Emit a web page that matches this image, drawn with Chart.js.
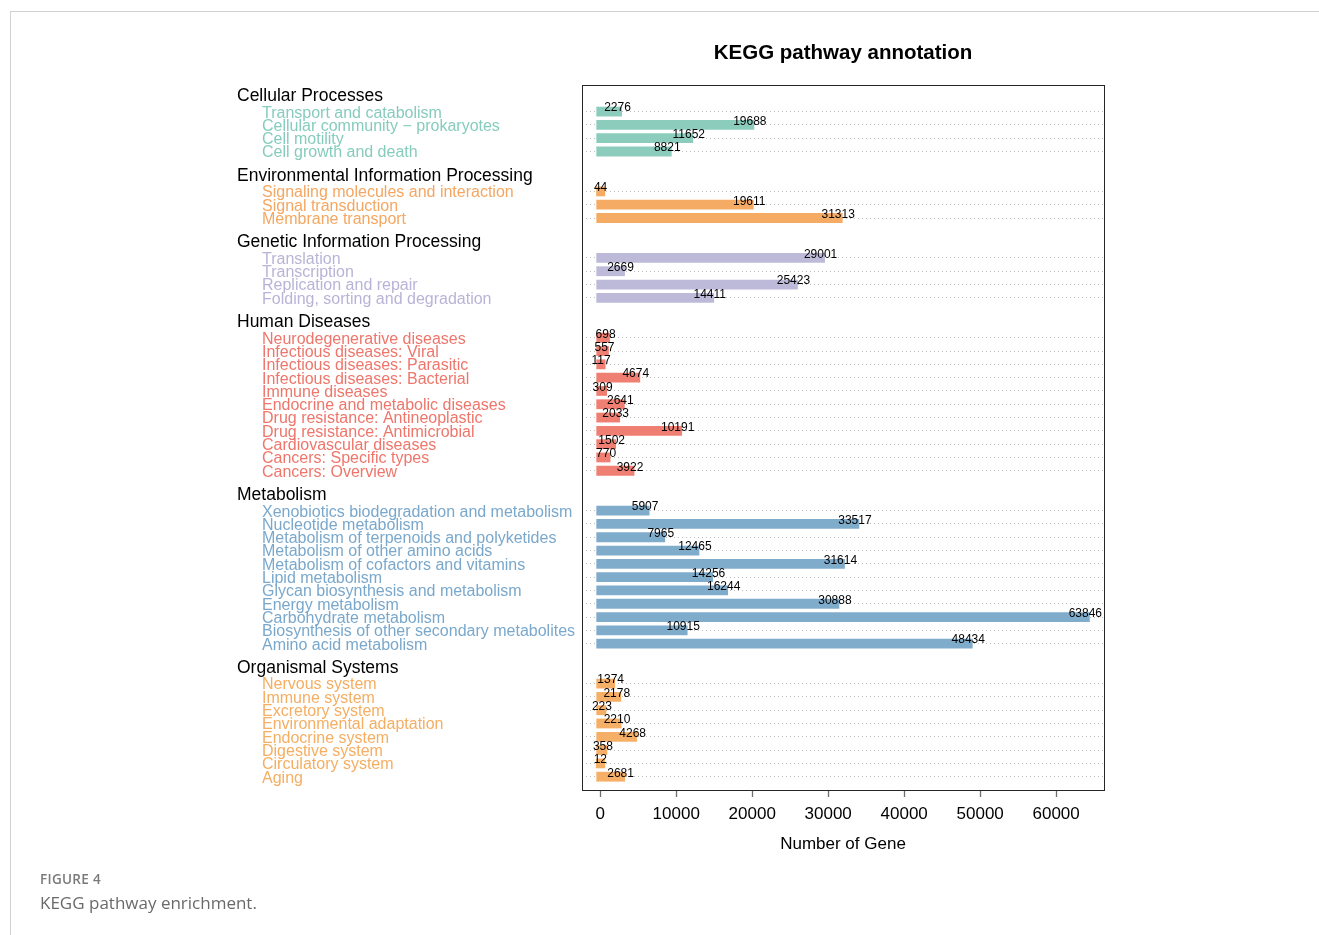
<!DOCTYPE html>
<html>
<head>
<meta charset="utf-8">
<title>KEGG pathway annotation</title>
<script src="https://cdn.jsdelivr.net/npm/chart.js@4.4.1/dist/chart.umd.min.js"></script>
<style>
  html, body { margin: 0; padding: 0; background: #fff; }
  body { width: 1319px; height: 935px; position: relative; overflow: hidden; }
  #chart { position: absolute; left: 0; top: 0; }
  .frame-top { position: absolute; left: 10px; top: 11px; width: 1309px; height: 1px; background: #d2d2d2; }
  .frame-left { position: absolute; left: 10px; top: 11px; width: 1px; height: 924px; background: #d2d2d2; }
  .fig-no { position: absolute; left: 40px; top: 870px; font: 600 13.5px "Open Sans", sans-serif; color: #7a7a7a; letter-spacing: 0.3px; }
  .fig-cap { position: absolute; left: 40px; top: 891px; font: 400 17px "Open Sans", sans-serif; color: #6a6a6a; }
</style>
</head>
<body>
<div class="frame-top"></div>
<div class="frame-left"></div>
<canvas id="chart" width="1319" height="935"></canvas>
<div class="fig-no">FIGURE 4</div>
<div class="fig-cap">KEGG pathway enrichment.</div>
<script>
// KEGG level-1 groups and their level-2 pathways with gene counts
const groupNames = [
  'Cellular Processes',
  'Environmental Information Processing',
  'Genetic Information Processing',
  'Human Diseases',
  'Metabolism',
  'Organismal Systems'
];

const cellularPathways = ['Transport and catabolism', 'Cellular community \u2212 prokaryotes', 'Cell motility', 'Cell growth and death'];
const cellularGenes = [2276, 19688, 11652, 8821];

const environmentalPathways = ['Signaling molecules and interaction', 'Signal transduction', 'Membrane transport'];
const environmentalGenes = [44, 19611, 31313];

const geneticPathways = ['Translation', 'Transcription', 'Replication and repair', 'Folding, sorting and degradation'];
const geneticGenes = [29001, 2669, 25423, 14411];

const diseasePathways = [
  'Neurodegenerative diseases', 'Infectious diseases: Viral', 'Infectious diseases: Parasitic',
  'Infectious diseases: Bacterial', 'Immune diseases', 'Endocrine and metabolic diseases',
  'Drug resistance: Antineoplastic', 'Drug resistance: Antimicrobial', 'Cardiovascular diseases',
  'Cancers: Specific types', 'Cancers: Overview'
];
const diseaseGenes = [698, 557, 117, 4674, 309, 2641, 2033, 10191, 1502, 770, 3922];

const metabolismPathways = [
  'Xenobiotics biodegradation and metabolism', 'Nucleotide metabolism',
  'Metabolism of terpenoids and polyketides', 'Metabolism of other amino acids',
  'Metabolism of cofactors and vitamins', 'Lipid metabolism', 'Glycan biosynthesis and metabolism',
  'Energy metabolism', 'Carbohydrate metabolism', 'Biosynthesis of other secondary metabolites',
  'Amino acid metabolism'
];
const metabolismGenes = [5907, 33517, 7965, 12465, 31614, 14256, 16244, 30888, 63846, 10915, 48434];

const organismalPathways = [
  'Nervous system', 'Immune system', 'Excretory system', 'Environmental adaptation',
  'Endocrine system', 'Digestive system', 'Circulatory system', 'Aging'
];
const organismalGenes = [1374, 2178, 223, 2210, 4268, 358, 12, 2681];

const barColors = ['#8bccbd', '#f5ab64', '#bdb9d9', '#ef7f72', '#80accc', '#f6af66'];
const labelColors = ['#86ccbd', '#f4a762', '#b8b4d7', '#ee766b', '#7aa8cc', '#f5ae62'];

const xTicks = [0, 10000, 20000, 30000, 40000, 50000, 60000];

// One row per drawn line: padding, group header, pathways, spacer between groups
const groupPathways = [cellularPathways, environmentalPathways, geneticPathways, diseasePathways, metabolismPathways, organismalPathways];
const groupGenes = [cellularGenes, environmentalGenes, geneticGenes, diseaseGenes, metabolismGenes, organismalGenes];

const rows = [{ kind: 'pad', label: '' }];
groupNames.forEach((name, g) => {
  if (g > 0) rows.push({ kind: 'gap', label: '' });
  rows.push({ kind: 'head', label: name, group: g });
  groupPathways[g].forEach((p, i) => {
    rows.push({ kind: 'bar', label: p, group: g, value: groupGenes[g][i] });
  });
});
rows.push({ kind: 'pad', label: '' });

const FONT = '"Liberation Sans", Arial, Helvetica, sans-serif';

const annotate = {
  id: 'annotate',
  beforeDatasetsDraw(chart) {
    const { ctx, chartArea: a } = chart;
    ctx.save();
    ctx.strokeStyle = '#262626';
    ctx.lineWidth = 1;
    ctx.strokeRect(Math.round(a.left) + 0.5, Math.round(a.top) + 0.5,
      Math.round(a.right - a.left), Math.round(a.bottom - a.top));
    ctx.restore();
  },
  afterDatasetsDraw(chart) {
    const { ctx, chartArea: a } = chart;
    const yScale = chart.scales.y;
    const meta = chart.getDatasetMeta(0);
    ctx.save();

    // chart title
    ctx.fillStyle = '#000';
    ctx.font = 'bold 20.5px ' + FONT;
    ctx.textAlign = 'center';
    ctx.textBaseline = 'middle';
    ctx.fillText('KEGG pathway annotation', (a.left + a.right) / 2, a.top - 32);

    // row labels to the left of the plot
    ctx.textAlign = 'left';
    rows.forEach((r, i) => {
      const y = yScale.getPixelForValue(i);
      if (r.kind === 'head') {
        ctx.font = '17.5px ' + FONT;
        ctx.fillStyle = '#000';
        ctx.fillText(r.label, a.left - 345, y - 2);
      } else if (r.kind === 'bar') {
        ctx.font = '16px ' + FONT;
        ctx.fillStyle = labelColors[r.group];
        ctx.fillText(r.label, a.left - 320, y + 1.5);
      }
    });

    // gene counts at the end of each bar
    ctx.font = '12px ' + FONT;
    ctx.fillStyle = '#000';
    ctx.textAlign = 'center';
    rows.forEach((r, i) => {
      if (r.kind !== 'bar') return;
      const el = meta.data[i];
      ctx.fillText(String(r.value), el.x, el.y - 3.5);
    });
    ctx.restore();
  }
};

new Chart(document.getElementById('chart'), {
  type: 'bar',
  data: {
    labels: rows.map(r => r.label),
    datasets: [{
      data: rows.map(r => (r.kind === 'bar' ? r.value : null)),
      backgroundColor: rows.map(r => (r.group !== undefined ? barColors[r.group] : 'transparent')),
      borderWidth: 0,
      barThickness: 1,
      inflateAmount: 4.4
    }]
  },
  options: {
    indexAxis: 'y',
    responsive: false,
    animation: false,
    layout: { padding: { left: 582, right: 215, top: 85, bottom: 70 } },
    plugins: { legend: { display: false }, tooltip: { enabled: false }, title: { display: false } },
    scales: {
      y: {
        type: 'category',
        offset: false,
        afterFit(scale) { scale.width = 0; },
        ticks: { display: false, autoSkip: false },
        border: { display: false, dash: [1, 3] },
        grid: {
          offset: false,
          drawTicks: false,
          lineWidth: 1,
          color: ctx => (rows[ctx.index] && rows[ctx.index].kind === 'bar' ? '#bdbdbd' : 'rgba(0,0,0,0)')
        }
      },
      x: {
        type: 'linear',
        min: -2400,
        max: 66300,
        afterFit(scale) { scale.height = 75; },
        afterBuildTicks(scale) { scale.ticks = xTicks.map(v => ({ value: v })); },
        border: { display: false },
        grid: {
          drawOnChartArea: false,
          drawTicks: true,
          tickLength: 7,
          tickColor: '#6e6e6e',
          tickWidth: 1.3
        },
        ticks: {
          color: '#000',
          padding: 7,
          maxRotation: 0,
          font: { family: FONT, size: 17 },
          callback: v => String(v)
        },
        title: {
          display: true,
          text: 'Number of Gene',
          color: '#000',
          font: { family: FONT, size: 17 },
          padding: { top: 0, bottom: 10.8 }
        }
      }
    }
  },
  plugins: [annotate]
});
</script>
</body>
</html>
